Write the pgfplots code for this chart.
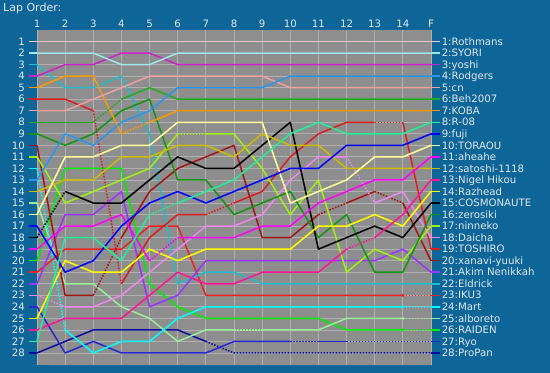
\documentclass[border=0pt]{standalone}
\usepackage{pgfplots}
\pgfplotsset{compat=1.18}
\usepackage{fontspec}
\setmainfont{DejaVu Sans}
\definecolor{bgblue}{RGB}{14,102,152}
\definecolor{plotbg}{RGB}{142,142,142}
\definecolor{gridc}{RGB}{176,176,176}
\definecolor{txt}{RGB}{225,232,238}
\definecolor{c1}{RGB}{255,200,200}
\definecolor{c2}{RGB}{160,230,230}
\definecolor{c3}{RGB}{204,34,204}
\definecolor{c4}{RGB}{40,150,240}
\definecolor{c5}{RGB}{240,160,160}
\definecolor{c6}{RGB}{34,170,34}
\definecolor{c7}{RGB}{255,153,0}
\definecolor{c8}{RGB}{34,238,153}
\definecolor{c9}{RGB}{0,0,255}
\definecolor{c10}{RGB}{255,255,153}
\definecolor{c11}{RGB}{255,0,255}
\definecolor{c12}{RGB}{204,187,0}
\definecolor{c13}{RGB}{255,20,147}
\definecolor{c14}{RGB}{255,255,0}
\definecolor{c15}{RGB}{0,0,0}
\definecolor{c16}{RGB}{17,150,17}
\definecolor{c17}{RGB}{160,240,20}
\definecolor{c18}{RGB}{238,136,238}
\definecolor{c19}{RGB}{220,30,30}
\definecolor{c20}{RGB}{165,20,20}
\definecolor{c21}{RGB}{153,51,255}
\definecolor{c22}{RGB}{34,187,204}
\definecolor{c23}{RGB}{235,35,35}
\definecolor{c24}{RGB}{0,255,255}
\definecolor{c25}{RGB}{153,238,153}
\definecolor{c26}{RGB}{0,238,0}
\definecolor{c27}{RGB}{40,40,210}
\definecolor{c28}{RGB}{10,10,160}
\tikzset{sl/.style={line width=1.5bp, line join=round},
         dl/.style={line width=1.5bp, dash pattern=on 1.5bp off 1.5bp}}
\newcommand{\lblfont}{\fontsize{10.2bp}{12bp}\selectfont}
\newcommand{\rlab}[2]{\draw[c#1, line width=1.5bp] (axis cs:15,#1) -- ++(9bp,0pt) node[anchor=base west, inner sep=0pt, xshift=1bp, yshift=-3.7bp, text=txt, font=\lblfont] {#1:#2};}
\newcommand{\llab}[2]{\draw[#2, line width=1.5bp] (axis cs:1,#1) -- ++(-8bp,0pt); \node[anchor=base east, inner sep=0pt, yshift=-3.7bp, text=txt, font=\lblfont] at ([xshift=-12bp]axis cs:1,#1) {#1};}
\newcommand{\tlab}[2]{\node[anchor=base, inner sep=0pt, yshift=3bp, text=txt, font=\lblfont] at (axis cs:#1,0) {#2};}
\begin{document}
\begin{tikzpicture}
\useasboundingbox (0,0) rectangle (550bp,373bp);
\fill[bgblue] (0,0) rectangle (550bp,373bp);
\node[anchor=base west, inner sep=0pt, text=txt, font=\fontsize{11bp}{13bp}\selectfont] at (3bp,361bp) {Lap Order:};
\begin{axis}[at={(37bp,8.5bp)}, anchor=south west, scale only axis,
  width=394bp, height=334.5bp, xmin=1, xmax=15, ymin=0, ymax=29, y dir=reverse,
  axis line style={draw=none}, axis background/.style={fill=plotbg},
  xtick={1,...,15}, ytick={1,...,28}, xticklabels={}, yticklabels={},
  major tick length=0pt, grid=major, grid style={gridc, line width=0.8bp},
  clip=false]
% 28 ProPan
\addplot[c28, sl] coordinates {(1,28)(2,27)(3,26)(4,26)(5,26)(6,26)(7,27)};
\addplot[c28, dl] coordinates {(7,27)(8,28)(15,28)};
% 27 Ryo
\addplot[c27, sl] coordinates {(1,24)(2,28)(3,27)(4,28)(5,28)(6,28)(7,28)(8,27)(9,27)(10,27)};
\addplot[c27, dl] coordinates {(10,27)(11,27)};
\addplot[c27, sl] coordinates {(11,27)(12,27)};
\addplot[c27, dl] coordinates {(12,27)(15,27)};
% 26 RAIDEN
\addplot[c26, sl] coordinates {(1,20)(2,12)(3,12)(4,12)(5,22)(6,24)(7,25)(8,25)(9,25)(10,25)(11,25)(12,26)(13,26)(14,26)};
\addplot[c26, dl] coordinates {(14,26)(15,26)};
% 25 alboreto
\addplot[c25, sl] coordinates {(1,15)(2,22)(3,22)(4,24)(5,25)(6,27)(7,26)(8,26)};
\addplot[c25, dl] coordinates {(8,26)(9,26)};
\addplot[c25, sl] coordinates {(9,26)(10,26)(11,26)(12,25)(13,25)(14,25)};
\addplot[c25, dl] coordinates {(14,25)(15,25)};
% 24 Mart
\addplot[c24, dl] coordinates {(1,12)(2,26)};
\addplot[c24, sl] coordinates {(2,26)(3,28)(4,27)(5,27)(6,25)(7,24)(8,24)(9,24)(10,24)(11,24)(12,24)(13,24)(14,24)};
\addplot[c24, dl] coordinates {(14,24)(15,24)};
% 23 IKU3
\addplot[c23, sl] coordinates {(1,21)(2,19)(3,19)(4,19)(5,17)(6,17)(7,23)(8,23)(9,23)(10,23)(11,23)(12,23)(13,23)(14,23)};
\addplot[c23, dl] coordinates {(14,23)(15,23)};
% 22 Eldrick
\addplot[c22, sl] coordinates {(1,3)(2,5)(3,5)(4,4)(5,9)(6,22)(7,21)(8,21)(9,22)(10,22)(11,22)(12,22)(13,22)(14,22)(15,22)};
% 21 Akim Nenikkah
\addplot[c21, sl] coordinates {(1,22)(2,16)(3,16)(4,14)(5,24)(6,23)(7,20)(8,20)(9,20)(10,20)(11,20)(12,20)(13,20)(14,19)(15,21)};
% 20 xanavi-yuuki
\addplot[c20, sl] coordinates {(1,10)(2,23)(3,23)};
\addplot[c20, dl] coordinates {(3,23)(4,18)};
\addplot[c20, sl] coordinates {(4,18)(5,14)(6,12)(7,11)(8,10)(9,18)(10,18)(11,16)};
\addplot[c20, dl] coordinates {(11,16)(12,15)};
\addplot[c20, sl] coordinates {(12,15)(13,14)};
\addplot[c20, dl] coordinates {(13,14)(14,15)};
\addplot[c20, sl] coordinates {(14,15)(15,20)};
% 19 TOSHIRO
\addplot[c19, sl] coordinates {(1,6)(2,6)(3,7)};
\addplot[c19, dl] coordinates {(3,7)(4,22)};
\addplot[c19, sl] coordinates {(4,22)(5,18)(6,16)(7,16)};
\addplot[c19, dl] coordinates {(7,16)(8,15)};
\addplot[c19, sl] coordinates {(8,15)(9,14)(10,11)(11,9)(12,8)(13,8)};
\addplot[c19, dl] coordinates {(13,8)(14,8)};
\addplot[c19, sl] coordinates {(14,8)(15,19)};
% 18 Daicha
\addplot[c18, dl] coordinates {(1,23)(2,24)};
\addplot[c18, sl] coordinates {(2,24)(3,24)(4,23)(5,21)(6,19)(7,17)(8,17)(9,16)(10,13)(11,11)(12,11)};
\addplot[c18, dl] coordinates {(12,11)(13,15)};
\addplot[c18, sl] coordinates {(13,15)(14,14)(15,18)};
% 17 ninneko
\addplot[c17, sl] coordinates {(1,11)(2,15)(3,14)(4,13)(5,12)(6,9)};
\addplot[c17, dl] coordinates {(6,9)(7,9)};
\addplot[c17, sl] coordinates {(7,9)(8,9)(9,12)(10,16)(11,13)(12,21)(13,19)(14,20)(15,17)};
% 16 zerosiki
\addplot[c16, sl] coordinates {(1,9)(2,10)(3,9)(4,7)(5,6)(6,13)(7,13)(8,16)(9,15)(10,14)(11,18)(12,16)(13,21)(14,21)(15,16)};
% 15 COSMONAUTE
\addplot[c15, dl] coordinates {(1,18)(2,14)};
\addplot[c15, sl] coordinates {(2,14)(3,15)(4,15)(5,13)(6,11)(7,12)(8,12)(9,10)(10,8)(11,19)(12,18)(13,17)(14,18)(15,15)};
% 14 Razhead
\addplot[c14, sl] coordinates {(1,25)(2,20)(3,21)(4,21)(5,19)(6,20)(7,19)(8,19)(9,19)(10,19)(11,17)(12,17)(13,16)(14,17)(15,14)};
% 13 Nigel Hikou
\addplot[c13, sl] coordinates {(1,26)(2,25)(3,25)(4,25)(5,23)(6,21)(7,22)(8,22)(9,21)(10,21)(11,21)(12,19)};
\addplot[c13, dl] coordinates {(12,19)(13,18)};
\addplot[c13, sl] coordinates {(13,18)(14,16)(15,13)};
% 12 satoshi-1118
\addplot[c12, sl] coordinates {(1,14)(2,13)(3,13)(4,11)(5,11)(6,10)(7,10)(8,11)(9,9)(10,10)(11,10)(12,12)(13,12)(14,12)(15,12)};
% 11 aheahe
\addplot[c11, sl] coordinates {(1,19)(2,17)(3,17)(4,16)(5,20)};
\addplot[c11, dl] coordinates {(5,20)(6,18)};
\addplot[c11, sl] coordinates {(6,18)(7,18)(8,18)(9,17)(10,17)(11,15)(12,14)(13,13)(14,13)(15,11)};
% 10 TORAOU
\addplot[c10, sl] coordinates {(1,16)(2,11)(3,11)(4,10)(5,10)(6,8)(7,8)(8,8)(9,8)(10,15)(11,14)(12,13)(13,11)(14,11)(15,10)};
% 9 fuji
\addplot[c9, sl] coordinates {(1,17)(2,21)(3,20)(4,17)(5,15)(6,14)(7,15)(8,14)(9,13)(10,12)(11,12)(12,10)(13,10)(14,10)(15,9)};
% 8 R-08
\addplot[c8, sl] coordinates {(1,27)(2,18)(3,18)(4,20)(5,16)};
\addplot[c8, dl] coordinates {(5,16)(6,15)};
\addplot[c8, sl] coordinates {(6,15)(7,14)(8,13)(9,11)(10,9)(11,8)(12,9)(13,9)(14,9)(15,8)};
% 7 KOBA
\addplot[c7, sl] coordinates {(1,5)(2,4)(3,4)(4,9)};
\addplot[c7, dl] coordinates {(4,9)(5,8)};
\addplot[c7, sl] coordinates {(5,8)(6,7)(7,7)(8,7)(9,7)(10,7)(11,7)(12,7)(13,7)(14,7)(15,7)};
% 6 Beh2007
\addplot[c6, sl] coordinates {(1,8)(2,8)(3,8)};
\addplot[c6, dl] coordinates {(3,8)(4,6)};
\addplot[c6, sl] coordinates {(4,6)(5,5)(6,6)(7,6)(8,6)(9,6)(10,6)(11,6)(12,6)(13,6)(14,6)(15,6)};
% 5 cn
\addplot[c5, sl] coordinates {(1,7)(2,7)(3,6)(4,5)(5,4)(6,4)(7,4)(8,4)(9,4)(10,5)(11,5)(12,5)(13,5)(14,5)(15,5)};
% 4 Rodgers
\addplot[c4, sl] coordinates {(1,13)(2,9)(3,10)(4,8)(5,7)(6,5)(7,5)(8,5)(9,5)(10,4)(11,4)(12,4)(13,4)(14,4)(15,4)};
% 3 yoshi
\addplot[c3, sl] coordinates {(1,4)(2,3)(3,3)(4,2)(5,2)(6,3)(7,3)(8,3)(9,3)(10,3)(11,3)(12,3)(13,3)(14,3)(15,3)};
% 2 SYORI
\addplot[c2, sl] coordinates {(1,2)(2,2)(3,2)(4,3)(5,3)(6,2)(7,2)(8,2)(9,2)(10,2)(11,2)(12,2)(13,2)(14,2)(15,2)};
% 1 Rothmans
\addplot[c1, sl] coordinates {(1,1)(2,1)(3,1)(4,1)(5,1)(6,1)(7,1)(8,1)(9,1)(10,1)(11,1)(12,1)(13,1)(14,1)(15,1)};
% markers at lap 14
\addplot[c23, only marks, mark=*, mark size=1.4bp] coordinates {(14,23)};
\addplot[c24, only marks, mark=*, mark size=1.4bp] coordinates {(14,24)};
\addplot[c25, only marks, mark=*, mark size=1.4bp] coordinates {(14,25)};
\addplot[c26, only marks, mark=*, mark size=1.4bp] coordinates {(14,26)};
% labels
\tlab{1}{1}\tlab{2}{2}\tlab{3}{3}\tlab{4}{4}\tlab{5}{5}\tlab{6}{6}\tlab{7}{7}
\tlab{8}{8}\tlab{9}{9}\tlab{10}{10}\tlab{11}{11}\tlab{12}{12}\tlab{13}{13}\tlab{14}{14}\tlab{15}{F}
\llab{1}{c1}\llab{2}{c2}\llab{3}{c22}\llab{4}{c3}\llab{5}{c7}\llab{6}{c19}\llab{7}{c5}
\llab{8}{c6}\llab{9}{c16}\llab{10}{c20}\llab{11}{c17}\llab{12}{c24}\llab{13}{c4}\llab{14}{c12}
\llab{15}{c25}\llab{16}{c10}\llab{17}{c9}\llab{18}{c15}\llab{19}{c11}\llab{20}{c26}\llab{21}{c23}
\llab{22}{c21}\llab{23}{c18}\llab{24}{c27}\llab{25}{c14}\llab{26}{c13}\llab{27}{c8}\llab{28}{c28}
\rlab{1}{Rothmans}\rlab{2}{SYORI}\rlab{3}{yoshi}\rlab{4}{Rodgers}\rlab{5}{cn}
\rlab{6}{Beh2007}\rlab{7}{KOBA}\rlab{8}{R-08}\rlab{9}{fuji}\rlab{10}{TORAOU}
\rlab{11}{aheahe}\rlab{12}{satoshi-1118}\rlab{13}{Nigel Hikou}\rlab{14}{Razhead}
\rlab{15}{COSMONAUTE}\rlab{16}{zerosiki}\rlab{17}{ninneko}\rlab{18}{Daicha}
\rlab{19}{TOSHIRO}\rlab{20}{xanavi-yuuki}\rlab{21}{Akim Nenikkah}\rlab{22}{Eldrick}
\rlab{23}{IKU3}\rlab{24}{Mart}\rlab{25}{alboreto}\rlab{26}{RAIDEN}\rlab{27}{Ryo}\rlab{28}{ProPan}
\end{axis}
\end{tikzpicture}
\end{document}
